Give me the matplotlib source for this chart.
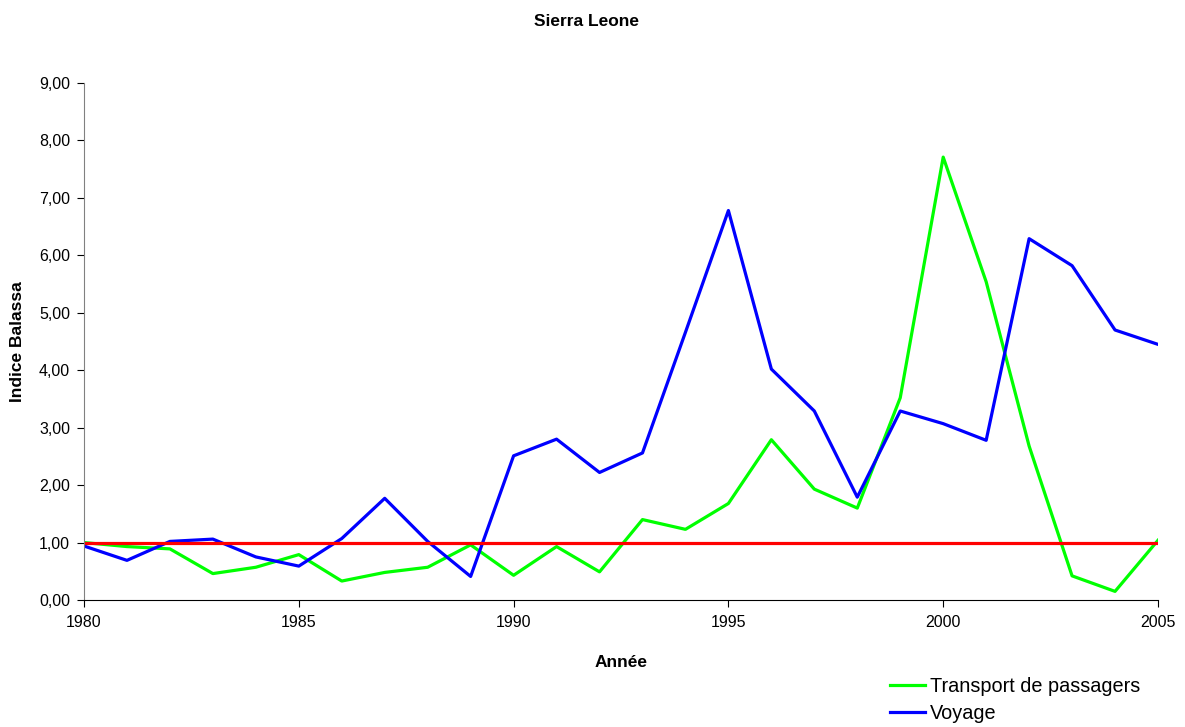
import matplotlib
matplotlib.use("Agg")
import matplotlib.pyplot as plt
from matplotlib.ticker import FuncFormatter, MultipleLocator

plt.rcParams['font.family'] = ['Liberation Sans', 'DejaVu Sans']

years = list(range(1980, 2006))
transport = [1.00, 0.93, 0.89, 0.46, 0.57, 0.79, 0.33, 0.48, 0.57, 0.96,
             0.43, 0.93, 0.49, 1.40, 1.23, 1.68, 2.79, 1.93, 1.60, 3.52,
             7.71, 5.54, 2.68, 0.42, 0.15, 1.04]
voyage = [0.94, 0.69, 1.02, 1.06, 0.75, 0.59, 1.07, 1.77, 1.02, 0.41,
          2.51, 2.80, 2.22, 2.56, 4.66, 6.78, 4.02, 3.29, 1.79, 3.29,
          3.07, 2.78, 6.29, 5.82, 4.70, 4.45]
reference = [1.0] * len(years)

fig = plt.figure(figsize=(11.85, 7.27), dpi=100)
ax = fig.add_axes([84 / 1185, 1 - 600 / 727, (1158 - 84) / 1185, (600 - 83) / 727])

l1, = ax.plot(years, transport, color='#00ff00', lw=2.3, label='Transport de passagers')
l2, = ax.plot(years, voyage, color='#0000ff', lw=2.3, label='Voyage')
ax.plot(years, reference, color='#ff0000', lw=2.3)

ax.set_xlim(1980, 2005)
ax.set_ylim(0, 9)
ax.xaxis.set_major_locator(MultipleLocator(5))
ax.yaxis.set_major_locator(MultipleLocator(1))
ax.yaxis.set_major_formatter(FuncFormatter(lambda v, p: f"{v:.2f}".replace('.', ',')))
ax.tick_params(labelsize=11.5, direction='out', length=5, width=0.8, colors='black', pad=5)
ax.tick_params(axis='x', pad=6)
for side in ('top', 'right'):
    ax.spines[side].set_visible(False)
ax.spines['left'].set_color('#808080')
ax.spines['bottom'].set_color('black')

fig.text(587 / 1185, 1 - 21 / 727, 'Sierra Leone', ha='center', va='center',
         fontsize=12.5, fontweight='bold')
ax.set_xlabel('Année', fontsize=12.5, fontweight='bold', labelpad=18)
ax.set_ylabel('Indice Balassa', fontsize=12.5, fontweight='bold', labelpad=10)

fig.legend(handles=[l1, l2], loc='upper left', bbox_to_anchor=(882 / 1185, 1 - 669 / 727),
           frameon=False, fontsize=14.3, handlelength=1.76, handletextpad=0.25,
           labelspacing=0.4, borderaxespad=0)

fig.savefig('out.png', dpi=100)
